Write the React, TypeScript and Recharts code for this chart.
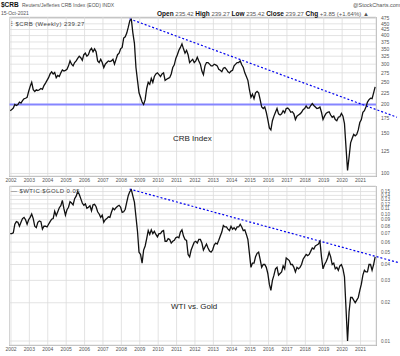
import { LineChart, Line, XAxis, YAxis, CartesianGrid, ReferenceLine } from 'recharts';

// monthly closes, first point mid-Dec 2001, last point Oct 2021
const START = 2001.96;

const yearTicks = [
  2002, 2003, 2004, 2005, 2006, 2007, 2008, 2009, 2010, 2011,
  2012, 2013, 2014, 2015, 2016, 2017, 2018, 2019, 2020, 2021,
];
const crbTicks = [100, 125, 150, 175, 200, 225, 250, 275, 300, 325, 350, 375, 400, 425, 450, 475];
const ratioTicks = [0.01, 0.02, 0.03, 0.04, 0.05, 0.06, 0.07, 0.08, 0.09, 0.1, 0.11, 0.12, 0.13, 0.14, 0.15];

const crbValues = [
  188,
  190, 193, 200, 198, 200, 205, 203, 208, 212, 213, 215, 228,
  240, 250, 232, 228, 232, 230, 232, 235, 233, 242, 248, 255,
  262, 272, 278, 272, 276, 262, 268, 265, 275, 283, 280, 282,
  285, 295, 310, 300, 295, 305, 310, 318, 325, 320, 312, 330,
  335, 325, 330, 345, 352, 340, 350, 340, 310, 305, 315, 305,
  290, 300, 305, 310, 308, 310, 315, 300, 315, 330, 335, 350,
  355, 390, 395, 410, 435, 465, 470, 410, 370, 290, 255, 225,
  215, 205, 200, 210, 235, 250, 245, 260, 250, 265, 272, 275,
  270, 265, 272, 275, 255, 258, 260, 262, 272, 290, 298, 318,
  330, 345, 355, 368, 350, 335, 345, 330, 305, 310, 315, 305,
  310, 322, 310, 300, 280, 270, 295, 305, 305, 300, 295, 295,
  300, 298, 295, 285, 282, 278, 288, 290, 285, 278, 275, 280,
  282, 295, 300, 305, 305, 310, 298, 290, 275, 265, 255, 232,
  215, 222, 212, 225, 228, 225, 210, 195, 192, 195, 185, 172,
  158, 155, 170, 178, 185, 192, 182, 180, 182, 188, 184, 192,
  193, 190, 185, 186, 182, 172, 178, 180, 182, 185, 190, 192,
  197, 193, 193, 198, 202, 198, 195, 192, 193, 195, 185, 172,
  178, 183, 185, 186, 180, 176, 178, 172, 170, 176, 177, 183,
  178, 165, 130, 103, 118, 136, 142, 148, 146, 148, 155, 167,
  172, 185, 188, 195, 205, 210, 213, 212, 225, 239,
];

const ratioValues = [
  0.070,
  0.070, 0.071, 0.083, 0.087, 0.086, 0.080, 0.086, 0.092, 0.094, 0.090, 0.083, 0.090,
  0.094, 0.100, 0.092, 0.080, 0.078, 0.086, 0.088, 0.087, 0.076, 0.080, 0.080, 0.079,
  0.083, 0.087, 0.091, 0.092, 0.105, 0.097, 0.104, 0.112, 0.116, 0.128, 0.110, 0.098,
  0.108, 0.113, 0.125, 0.122, 0.118, 0.132, 0.138, 0.150, 0.143, 0.132, 0.122, 0.117,
  0.120, 0.111, 0.113, 0.116, 0.106, 0.118, 0.119, 0.114, 0.104, 0.100, 0.094, 0.098,
  0.086, 0.090, 0.092, 0.095, 0.094, 0.103, 0.111, 0.108, 0.112, 0.115, 0.117, 0.113,
  0.103, 0.104, 0.109, 0.124, 0.140, 0.150, 0.155, 0.138, 0.124, 0.095, 0.073, 0.050,
  0.048, 0.041, 0.052, 0.056, 0.064, 0.074, 0.069, 0.075, 0.070, 0.073, 0.069, 0.066,
  0.070, 0.070, 0.073, 0.074, 0.061, 0.061, 0.064, 0.063, 0.059, 0.061, 0.062, 0.065,
  0.066, 0.065, 0.072, 0.075, 0.067, 0.063, 0.062, 0.048, 0.046, 0.052, 0.056, 0.060,
  0.061, 0.059, 0.063, 0.063, 0.059, 0.052, 0.055, 0.058, 0.054, 0.051, 0.050, 0.052,
  0.057, 0.059, 0.058, 0.062, 0.067, 0.072, 0.081, 0.079, 0.079, 0.076, 0.074, 0.080,
  0.076, 0.078, 0.075, 0.079, 0.079, 0.083, 0.079, 0.074, 0.075, 0.069, 0.063, 0.049,
  0.038, 0.041, 0.041, 0.046, 0.049, 0.050, 0.044, 0.038, 0.040, 0.040, 0.038, 0.034,
  0.028, 0.025, 0.030, 0.033, 0.037, 0.038, 0.033, 0.034, 0.035, 0.039, 0.037, 0.045,
  0.044, 0.043, 0.040, 0.040, 0.038, 0.035, 0.038, 0.037, 0.038, 0.040, 0.044, 0.046,
  0.048, 0.047, 0.048, 0.051, 0.054, 0.053, 0.056, 0.057, 0.058, 0.061, 0.046, 0.037,
  0.040, 0.042, 0.045, 0.050, 0.046, 0.040, 0.041, 0.037, 0.038, 0.036, 0.039, 0.040,
  0.037, 0.032, 0.018, 0.010, 0.017, 0.022, 0.022, 0.021, 0.020, 0.021, 0.022, 0.025,
  0.028, 0.033, 0.036, 0.035, 0.035, 0.040, 0.040, 0.036, 0.040, 0.046,
];

// trendlines drawn from the 2008 peak, running past the right edge
const crbTrend = [{ x: 2008.45, y: 473 }, { x: 2022.98, y: 176 }];
const ratioTrend = [{ x: 2008.45, y: 0.157 }, { x: 2023.03, y: 0.0415 }];
const crbSupport = 200;

const crbData = crbValues.map((v, i) => ({ t: START + i / 12, v }));
const ratioData = ratioValues.map((v, i) => ({ t: START + i / 12, v }));

const FONT = '"Liberation Sans", Arial, sans-serif';
const X_DOMAIN: [number, number] = [2001.92, 2021.84];
const tickStyle = { fontSize: 5, fill: '#555', fontFamily: FONT };

const txt = (left: number, top: number, size: number, extra: any = {}) => ({
  position: 'absolute' as const,
  left,
  top,
  fontSize: size,
  lineHeight: 1,
  fontFamily: FONT,
  whiteSpace: 'nowrap' as const,
  color: '#333',
  ...extra,
});

const bold = { color: '#111', fontSize: 6.5, fontWeight: 'bold' as const };

export default function App() {
  return (
    <div style={{ position: 'absolute', left: 0, top: 0, width: 400, height: 356, background: '#fff', overflow: 'hidden' }}>
      {/* panel frames */}
      <div style={{ position: 'absolute', left: 9, top: 17, width: 368, height: 160, border: '1px solid #b5b5b5', boxSizing: 'border-box' }} />
      <div style={{ position: 'absolute', left: 9, top: 186, width: 368, height: 160, border: '1px solid #b5b5b5', boxSizing: 'border-box' }} />

      <div style={{ position: 'absolute', left: 0, top: 0 }}>
        <LineChart width={400} height={186} data={crbData} margin={{ top: 17, right: 0, left: 9.5, bottom: 0 }}>
          <CartesianGrid stroke="#dcdcdc" strokeWidth={0.8} />
          <XAxis
            dataKey="t"
            type="number"
            domain={X_DOMAIN}
            allowDataOverflow
            ticks={yearTicks}
            interval={0}
            height={10}
            tickLine={false}
            axisLine={false}
            tickSize={0}
            tickMargin={2}
            tick={tickStyle}
          />
          <YAxis
            orientation="right"
            scale="log"
            domain={[97.5, 482]}
            allowDataOverflow
            ticks={crbTicks}
            interval={0}
            width={24}
            tickLine={false}
            axisLine={false}
            tickSize={0}
            tickMargin={5}
            tick={{ ...tickStyle, textAnchor: 'start' }}
          />
          <ReferenceLine y={crbSupport} stroke="#8585ff" strokeWidth={1.8} />
          <ReferenceLine segment={crbTrend} ifOverflow="visible" stroke="#0000ee" strokeWidth={1.2} strokeDasharray="2 2" />
          <Line type="linear" dataKey="v" stroke="#111" strokeWidth={1.3} dot={false} isAnimationActive={false} />
        </LineChart>
      </div>

      <div style={{ position: 'absolute', left: 0, top: 176 }}>
        <LineChart width={400} height={180} data={ratioData} margin={{ top: 10, right: 0, left: 9.5, bottom: 0 }}>
          <CartesianGrid stroke="#dcdcdc" strokeWidth={0.8} />
          <XAxis
            dataKey="t"
            type="number"
            domain={X_DOMAIN}
            allowDataOverflow
            ticks={yearTicks}
            interval={0}
            height={11}
            tickLine={false}
            axisLine={false}
            tickSize={0}
            tickMargin={2}
            tick={tickStyle}
          />
          <YAxis
            orientation="right"
            scale="log"
            domain={[0.0093, 0.166]}
            allowDataOverflow
            ticks={ratioTicks}
            interval={0}
            width={24}
            tickLine={false}
            axisLine={false}
            tickSize={0}
            tickMargin={5}
            tickFormatter={(v) => v.toFixed(2)}
            tick={{ ...tickStyle, fontSize: 4.6, textAnchor: 'start' }}
          />
          <ReferenceLine segment={ratioTrend} ifOverflow="visible" stroke="#0000ee" strokeWidth={1.2} strokeDasharray="2 2" />
          <Line type="linear" dataKey="v" stroke="#111" strokeWidth={1.3} dot={false} isAnimationActive={false} />
        </LineChart>
      </div>

      {/* header */}
      <div style={txt(1, 1.5, 6.5, { fontWeight: 'bold', color: '#111' })}>$CRB</div>
      <div style={txt(22, 2.5, 5, { color: '#555' })}>Reuters/Jefferies CRB Index (EOD) INDX</div>
      <div style={txt(353, 3, 5.5, { color: '#555' })}>@StockCharts.com</div>
      <div style={txt(1, 11, 5, { color: '#555' })}>15-Oct-2021</div>
      <div style={txt(157, 10.5, 6, { color: '#555' })}>
        <span style={bold}>Open</span> 235.42 <span style={bold}>High</span> 239.27{' '}
        <span style={bold}>Low</span> 235.42 <span style={bold}>Close</span> 239.27{' '}
        <span style={bold}>Chg</span> +3.85 (+1.64%) ▲
      </div>

      {/* legends */}
      <div style={txt(11, 21, 6, { color: '#444', letterSpacing: 0.4 })}>
        <span style={{ fontWeight: 'bold', color: '#222' }}>⫶</span> $CRB (Weekly) 239.27
      </div>
      <div style={txt(11, 188, 6, { color: '#444', letterSpacing: 0.4 })}>— $WTIC:$GOLD 0.05</div>

      {/* panel captions */}
      <div style={txt(173, 135, 8, { color: '#222' })}>CRB Index</div>
      <div style={txt(171, 303, 8, { color: '#222' })}>WTI vs. Gold</div>
    </div>
  );
}
